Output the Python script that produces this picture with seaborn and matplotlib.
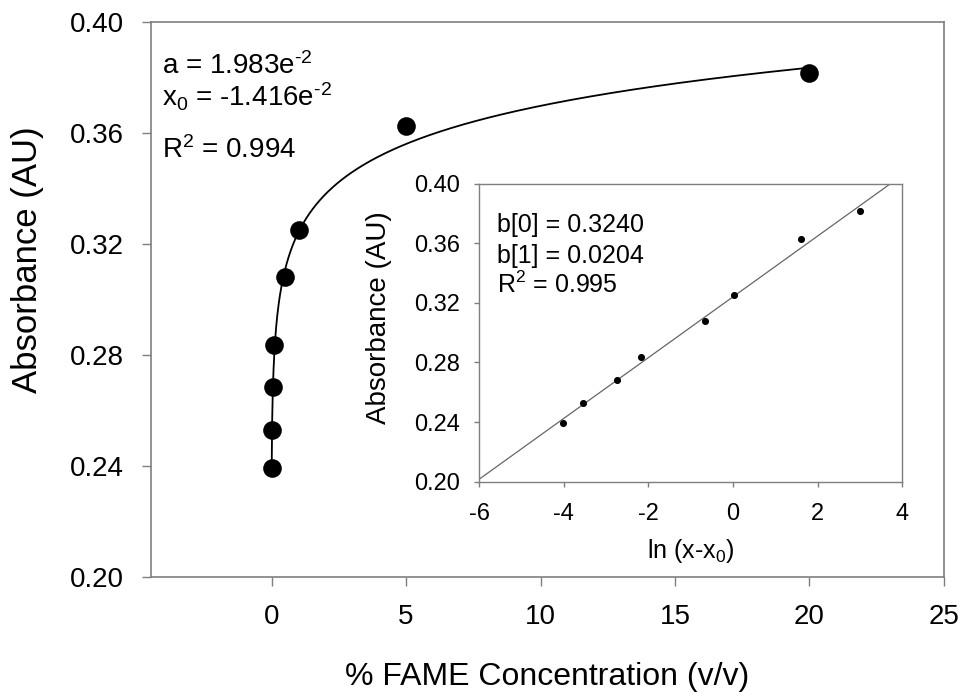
import numpy as np
import pandas as pd
import matplotlib
matplotlib.use("Agg")
import matplotlib.pyplot as plt
import seaborn as sns

# Measured calibration points
fame_conc = [0.004, 0.015, 0.05, 0.1, 0.5, 1.0, 5.0, 20.0]
absorbance = [0.2395, 0.2530, 0.2685, 0.2835, 0.3080, 0.3250, 0.3625, 0.3815]

# Fit parameters (log model y = b0 + a*ln(x - x0))
fit_a = 1.983e-2
fit_x0 = -1.416e-2
fit_b0 = 0.3240
lin_b1 = 0.0204

main_xticks = [0, 5, 10, 15, 20, 25]
main_yticks = [0.20, 0.24, 0.28, 0.32, 0.36, 0.40]
inset_xticks = [-6, -4, -2, 0, 2, 4]
inset_yticks = [0.20, 0.24, 0.28, 0.32, 0.36, 0.40]

main_notes = ["a = 1.983e$^{\u2010 2}$", "x$_0$ = -1.416e$^{\u2010 2}$", "R$^2$ = 0.994"]
inset_notes = ["b[0] = 0.3240", "b[1] = 0.0204", "R$^2$ = 0.995"]

sns.set_theme(style="white")
plt.rcParams["font.family"] = ["Liberation Sans", "DejaVu Sans"]
plt.rcParams["mathtext.fontset"] = "custom"
plt.rcParams["mathtext.rm"] = "Liberation Sans"
plt.rcParams["mathtext.it"] = "Liberation Sans"
plt.rcParams["text.color"] = "black"
plt.rcParams["axes.labelcolor"] = "black"
plt.rcParams["xtick.labelcolor"] = "black"
plt.rcParams["ytick.labelcolor"] = "black"

spine_col = "#7f7f7f"

df = pd.DataFrame({"conc": fame_conc, "abs": absorbance})
df["lnx"] = np.log(df["conc"] - fit_x0)

fig = plt.figure(figsize=(9.66, 6.98), dpi=100)
ax = fig.add_axes([0.156, 0.173, 0.821, 0.796])

# fitted log curve
xc = np.linspace(0.0, 20.0, 2000)
curve = pd.DataFrame({"x": xc, "y": fit_b0 + fit_a * np.log(xc - fit_x0)})
sns.lineplot(data=curve, x="x", y="y", ax=ax, color="black", lw=1.3, sort=False)
sns.scatterplot(data=df, x="conc", y="abs", ax=ax, color="black", s=180,
                linewidth=0, zorder=3)

ax.set_xlim(-4.5, 25)
ax.set_ylim(0.20, 0.40)
ax.set_xticks(main_xticks)
ax.set_yticks(main_yticks)
ax.set_xticklabels([str(t) for t in main_xticks])
ax.set_yticklabels([f"{t:.2f}" for t in main_yticks])
ax.tick_params(axis="both", which="major", direction="out", length=6.5, width=1,
               color=spine_col, labelcolor="black", labelsize=20,
               bottom=True, left=True)
ax.tick_params(axis="x", pad=13)
ax.tick_params(axis="y", pad=13)
for s in ax.spines.values():
    s.set_color(spine_col)
    s.set_linewidth(1.2)
ax.set_xlabel("% FAME Concentration (v/v)", fontsize=23, color="black")
ax.set_ylabel("Absorbance (AU)", fontsize=25, color="black")
ax.xaxis.set_label_coords(0.5, -0.152)
ax.yaxis.set_label_coords(-0.134, 0.571)

for txt, yb in zip(main_notes, [0.906, 0.847, 0.755]):
    ax.text(0.014, yb, txt, transform=ax.transAxes, fontsize=20,
            va="baseline", ha="left", color="black")

# inset: linearised fit
ins = fig.add_axes([0.496, 0.310, 0.438, 0.427])
xl = np.linspace(-6, 4, 200)
line = pd.DataFrame({"x": xl, "y": fit_b0 + lin_b1 * xl})
sns.lineplot(data=line, x="x", y="y", ax=ins, color="#666666", lw=0.9)
sns.scatterplot(data=df, x="lnx", y="abs", ax=ins, color="black", s=26,
                linewidth=0, zorder=3)
ins.set_xlim(-6, 4)
ins.set_ylim(0.20, 0.40)
ins.set_xticks(inset_xticks)
ins.set_yticks(inset_yticks)
ins.set_xticklabels([str(t) for t in inset_xticks])
ins.set_yticklabels([f"{t:.2f}" for t in inset_yticks])
ins.tick_params(axis="both", direction="out", length=3.5, width=1, color=spine_col,
                labelcolor="black", labelsize=17, bottom=True, left=True)
ins.tick_params(axis="x", pad=12)
ins.tick_params(axis="y", pad=10)
for s in ins.spines.values():
    s.set_color(spine_col)
    s.set_linewidth(1.0)
ins.set_xlabel("ln (x-x$_0$)", fontsize=18, color="black")
ins.set_ylabel("Absorbance (AU)", fontsize=20, color="black")
ins.xaxis.set_label_coords(0.5, -0.185)
ins.yaxis.set_label_coords(-0.205, 0.55)

for txt, yb in zip(inset_notes, [0.836, 0.735, 0.634]):
    ins.text(0.043, yb, txt, transform=ins.transAxes, fontsize=18,
             va="baseline", ha="left", color="black")

fig.savefig("out.png", dpi=100)
